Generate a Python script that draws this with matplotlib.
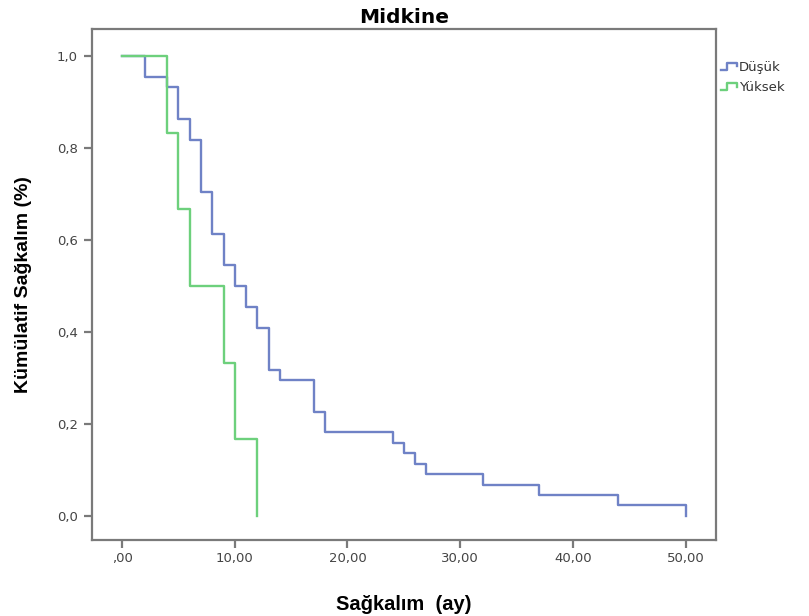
import matplotlib
matplotlib.use("Agg")
import matplotlib.pyplot as plt
from matplotlib.legend_handler import HandlerBase
from matplotlib.lines import Line2D
from matplotlib import font_manager

# Kaplan-Meier survival estimates by Midkine group
dusuk_time = [0, 2, 4, 5, 6, 7, 8, 9, 10, 11, 12, 13, 14, 17, 18, 24, 25, 26, 27, 32, 37, 44, 50]
dusuk_surv = [1.0, 0.955, 0.932, 0.864, 0.818, 0.705, 0.614, 0.545, 0.500, 0.455, 0.409,
              0.318, 0.295, 0.227, 0.182, 0.159, 0.136, 0.114, 0.091, 0.068, 0.045, 0.023, 0.0]

yuksek_time = [0, 4, 5, 6, 9, 10, 12]
yuksek_surv = [1.0, 0.833, 0.667, 0.500, 0.333, 0.167, 0.0]

group_labels = ["Düşük", "Yüksek"]
x_ticks = [0, 10, 20, 30, 40, 50]
x_tick_labels = [",00", "10,00", "20,00", "30,00", "40,00", "50,00"]
y_ticks = [0.0, 0.2, 0.4, 0.6, 0.8, 1.0]
y_tick_labels = ["0,0", "0,2", "0,4", "0,6", "0,8", "1,0"]

BLUE = "#6f82c6"
GREEN = "#6dd07c"
AXIS = "#7a7a7a"

names = {f.name for f in font_manager.fontManager.ttflist}
arial_like = "Liberation Sans" if "Liberation Sans" in names else "DejaVu Sans"
plt.rcParams["font.family"] = ["DejaVu Sans"]


class StepHandler(HandlerBase):
    """Legend key drawn as a small step line."""
    def create_artists(self, legend, orig_handle, xdescent, ydescent,
                       width, height, fontsize, trans):
        x0, x1 = -xdescent, -xdescent + width
        y0, y1 = -ydescent + 0.15 * height, -ydescent + 0.85 * height
        xs = [x0, x0 + 0.4 * width, x0 + 0.4 * width, x1, x1]
        ys = [y0, y0, y1, y1, y1 - 0.35 * height]
        line = Line2D(xs, ys, color=orig_handle.get_color(),
                      linewidth=orig_handle.get_linewidth(), transform=trans)
        return [line]


fig = plt.figure(figsize=(8.09, 6.16), dpi=100)
ax = fig.add_axes([0.1135, 0.1234, 0.7715, 0.8296])

l1, = ax.plot(dusuk_time, dusuk_surv, drawstyle="steps-post", color=BLUE, lw=1.7)
l2, = ax.plot(yuksek_time, yuksek_surv, drawstyle="steps-post", color=GREEN, lw=1.7)

ax.set_xlim(-2.69, 52.7)
ax.set_ylim(-0.052, 1.0587)

ax.set_xticks(x_ticks)
ax.set_xticklabels(x_tick_labels)
ax.set_yticks(y_ticks)
ax.set_yticklabels(y_tick_labels)

for side in ["left", "right", "top", "bottom"]:
    ax.spines[side].set_color(AXIS)
    ax.spines[side].set_linewidth(1.6)

ax.tick_params(axis="both", direction="out", length=6, width=1.6, color=AXIS,
               labelsize=9.5, labelcolor="#444444", pad=4)
ax.tick_params(axis="x", pad=3)

ax.set_title("Midkine", fontsize=14.5, fontweight="bold", pad=4)
ax.set_xlabel("Sağkalım  (ay)", fontsize=14.5, fontweight="bold",
              family=[arial_like, "DejaVu Sans"], labelpad=21)
ax.set_ylabel("Kümülatif Sağkalım (%)", fontsize=14, fontweight="bold",
              family=[arial_like, "DejaVu Sans"], labelpad=18)

leg = ax.legend([l1, l2], group_labels, handler_map={Line2D: StepHandler()},
                loc="upper left", bbox_to_anchor=(0.995, 0.953), frameon=False,
                fontsize=9.5, handlelength=1.25, handletextpad=0.1,
                labelspacing=0.55, borderaxespad=0.2)
for t in leg.get_texts():
    t.set_color("#333333")

fig.savefig("out.png", dpi=100, facecolor="white")
